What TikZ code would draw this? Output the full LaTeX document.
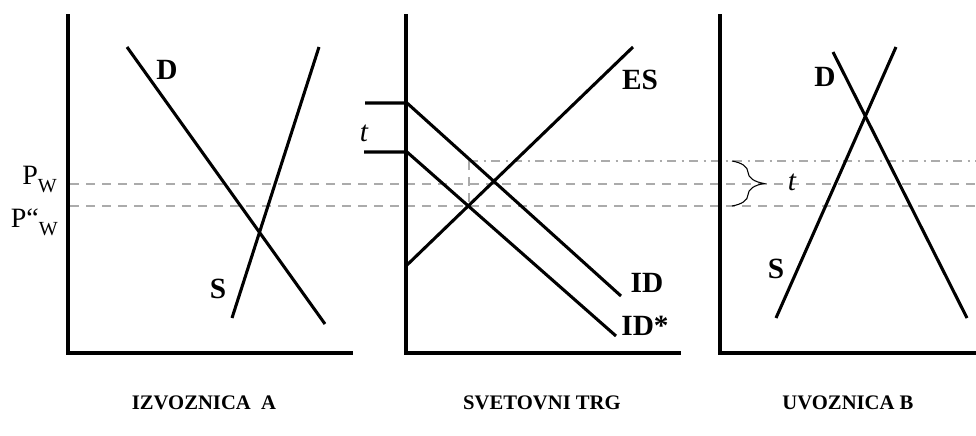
\documentclass[tikz,border=0pt]{standalone}
\usepackage{fontspec}
\setmainfont{Liberation Serif}
\usetikzlibrary{decorations.pathreplacing}

\begin{document}
\begin{tikzpicture}[x=0.75pt, y=-0.75pt,
  axis/.style={line width=3pt, line join=miter},
  curve/.style={line width=2.3pt},
  guide/.style={line width=1.3pt, color=black!33, dash pattern=on 7pt off 5pt},
  guidedot/.style={line width=1.3pt, color=black!33, dash pattern=on 7pt off 4pt on 1.5pt off 4pt},
  lbl/.style={font=\fontsize{22}{25}\selectfont\bfseries, inner sep=0pt},
  tlbl/.style={font=\fontsize{22}{25}\selectfont\itshape, inner sep=0pt},
  plbl/.style={font=\fontsize{21}{24}\selectfont, inner sep=0pt, anchor=base east},
  title/.style={font=\fontsize{15.5}{18}\selectfont\bfseries, inner sep=0pt}]
\useasboundingbox (0,0) rectangle (976,436);

% price lines across all three panels
\coordinate (pwL) at (70,184);
\coordinate (pwR) at (976,184);
\coordinate (ptL) at (70,206);
\coordinate (ptR) at (976,206);
\coordinate (puL) at (469,161);
\coordinate (puR) at (976,161);
\draw[guide] (pwL) -- (pwR);
\draw[guide] (ptL) -- (ptR);
\draw[guidedot] (puL) -- (puR);
\draw[guide] (puL) -- (469,206);

\node[plbl] (pw) at (57,184) {P\raisebox{-6pt}{\fontsize{15}{18}\selectfont W}};
\node[plbl] (pt) at (58,227) {P“\raisebox{-6pt}{\fontsize{15}{18}\selectfont W}};

% IZVOZNICA A
\coordinate (yA) at (68,14);
\coordinate (oA) at (68,353);
\coordinate (xA) at (353,353);
\draw[axis] (yA) -- (oA) -- (xA);
\coordinate (dA1) at (127,47);
\coordinate (dA2) at (325,324);
\coordinate (sA1) at (319,47);
\coordinate (sA2) at (232,318);
\draw[curve] (dA1) -- (dA2);
\draw[curve] (sA1) -- (sA2);
\node[lbl] (dA) at (167,70) {D};
\node[lbl] (sA) at (218,289) {S};
\node[title] (tA) at (204,403) {IZVOZNICA\ \ A};

% SVETOVNI TRG
\coordinate (yB) at (406,14);
\coordinate (oB) at (406,353);
\coordinate (xB) at (681,353);
\draw[axis] (yB) -- (oB) -- (xB);
\coordinate (es1) at (407,265);
\coordinate (es2) at (633,47);
\draw[curve] (es1) -- (es2);
\coordinate (id0) at (365,103);
\coordinate (id1) at (407,103);
\coordinate (id2) at (621,296);
\draw[curve] (id0) -- (id1) -- (id2);
\coordinate (ids0) at (364,152);
\coordinate (ids1) at (407,152);
\coordinate (ids2) at (616,336);
\draw[curve] (ids0) -- (ids1) -- (ids2);
\node[tlbl] (tB) at (364,133) {t};
\node[lbl] (es) at (640,80) {ES};
\node[lbl] (id) at (647,283) {ID};
\node[lbl, anchor=base] (ids) at (645,335) {ID*};
\node[title] (tW) at (542,403) {SVETOVNI TRG};

% UVOZNICA B
\coordinate (yC) at (720,14);
\coordinate (oC) at (720,353);
\coordinate (xC) at (976,353);
\draw[axis] (yC) -- (oC) -- (xC);
\coordinate (dC1) at (833,52);
\coordinate (dC2) at (967,318);
\coordinate (sC1) at (896,47);
\coordinate (sC2) at (776,318);
\draw[curve] (dC1) -- (dC2);
\draw[curve] (sC1) -- (sC2);
\node[lbl] (dC) at (825,77) {D};
\node[lbl] (sC) at (776,269) {S};
\coordinate (br1) at (732,161);
\coordinate (br2) at (732,206);
\draw[line width=0.8pt, decorate, decoration={brace, amplitude=24pt}] (br1) -- (br2);
\node[tlbl] (tC) at (792,182) {t};
\node[title] (tB2) at (848,403) {UVOZNICA B};

\end{tikzpicture}
\end{document}
